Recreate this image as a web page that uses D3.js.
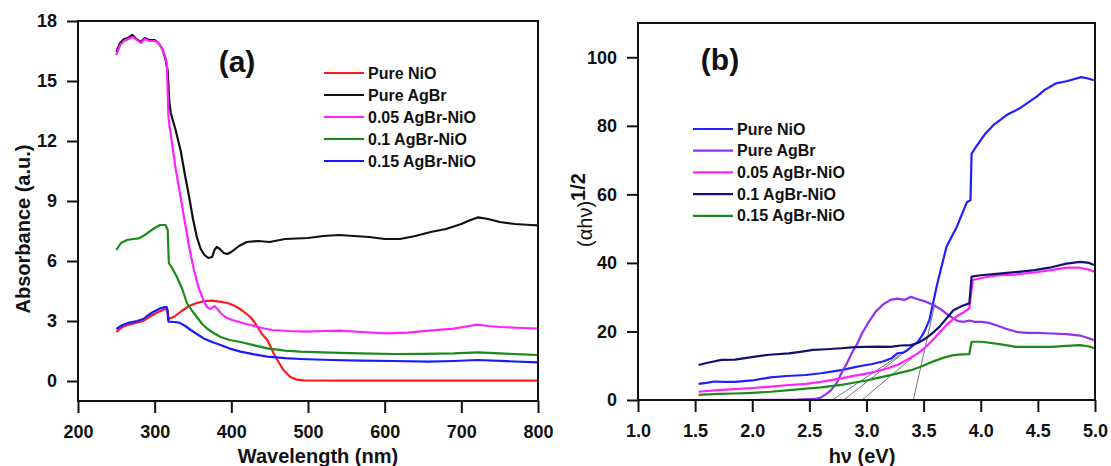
<!DOCTYPE html>
<html>
<head>
<meta charset="utf-8">
<script src="https://cdn.jsdelivr.net/npm/d3@7"></script>
<style>
  body { margin: 0; background: #fff; }
  svg text { font-family: "Liberation Sans", Arial, sans-serif; font-weight: bold; fill: #111; }
</style>
</head>
<body>
<svg id="chart" width="1111" height="466"></svg>
<script>
// ---- panel (a): absorbance vs wavelength ----
let pureNiOA = [[250,2.45],[258,2.7],[265,2.8],[275,2.9],[285,3.0],[295,3.25],[305,3.45],[313,3.6],[317,3.55],[318,3.1],[325,3.2],[335,3.5],[345,3.75],[355,3.9],[365,4.0],[375,4.02],[385,3.97],[395,3.9],[405,3.75],[415,3.5],[425,3.2],[430,2.95],[440,2.35],[447,2.05],[455,1.4],[460,1.05],[468,0.55],[477,0.2],[485,0.07],[495,0.03],[550,0.02],[650,0.02],[800,0.02]];
let pureAgBrA = [[250,16.45],[255,16.9],[260,17.1],[265,17.15],[271,17.3],[276,17.1],[282,16.95],[287,17.15],[293,17.05],[300,17.05],[305,16.9],[310,16.6],[314,16.1],[317,15.5],[319,14.0],[321,13.4],[327,12.6],[334,11.5],[340,10.2],[345,9.2],[350,8.1],[355,7.2],[360,6.6],[365,6.3],[370,6.15],[375,6.2],[378,6.55],[381,6.7],[385,6.6],[390,6.4],[395,6.35],[400,6.45],[410,6.75],[420,6.95],[435,7.0],[450,6.95],[470,7.1],[500,7.15],[520,7.25],[540,7.3],[560,7.25],[580,7.2],[600,7.1],[620,7.1],[640,7.25],[660,7.45],[680,7.6],[700,7.85],[712,8.05],[722,8.18],[735,8.1],[750,7.95],[770,7.85],[790,7.8],[800,7.78]];
let agbr005A = [[250,16.3],[255,16.8],[260,17.0],[266,17.1],[271,17.2],[277,17.05],[282,16.9],[287,17.1],[293,17.0],[300,17.0],[305,16.9],[310,16.6],[314,16.2],[316,15.8],[318,13.2],[320,12.6],[327,10.7],[336,8.7],[345,6.7],[351,5.6],[357,4.7],[363,4.1],[368,3.7],[373,3.6],[378,3.75],[382,3.6],[386,3.4],[392,3.2],[401,3.05],[415,2.9],[425,2.8],[440,2.65],[453,2.55],[475,2.5],[499,2.47],[520,2.5],[541,2.52],[570,2.45],[602,2.38],[630,2.42],[658,2.52],[690,2.62],[710,2.75],[721,2.82],[735,2.75],[751,2.7],[780,2.65],[800,2.62]];
let agbr01A = [[250,6.55],[256,6.9],[264,7.05],[272,7.1],[279,7.13],[285,7.25],[290,7.38],[298,7.6],[307,7.8],[314,7.8],[317,7.55],[318.5,5.9],[322,5.7],[329,5.2],[336,4.6],[342,3.9],[349,3.5],[355,3.2],[362,2.85],[369,2.6],[377,2.4],[386,2.2],[398,2.05],[412,1.95],[430,1.78],[447,1.63],[470,1.52],[490,1.47],[530,1.42],[568,1.38],[612,1.35],[650,1.36],[690,1.38],[721,1.43],[750,1.38],[780,1.33],[800,1.3]];
let agbr015A = [[250,2.6],[258,2.8],[267,2.92],[277,3.0],[285,3.1],[290,3.25],[298,3.45],[307,3.63],[313,3.7],[316,3.68],[318,2.97],[325,2.95],[332,2.92],[340,2.75],[347,2.55],[355,2.35],[364,2.13],[375,1.95],[386,1.8],[398,1.62],[412,1.47],[430,1.33],[447,1.22],[470,1.14],[490,1.1],[530,1.05],[568,1.02],[612,1.0],[656,0.97],[690,1.0],[721,1.05],[760,0.99],[800,0.93]];

// ---- panel (b): (alpha h nu)^1/2 vs photon energy ----
let pureNiOB = [[1.53,4.7],[1.6,5.0],[1.67,5.4],[1.75,5.3],[1.85,5.3],[2.0,5.7],[2.16,6.6],[2.3,7.0],[2.47,7.3],[2.6,7.8],[2.78,8.7],[2.9,9.6],[2.96,10.0],[3.05,10.5],[3.15,11.3],[3.22,12.2],[3.27,13.6],[3.32,13.8],[3.36,14.6],[3.45,17.0],[3.5,19.5],[3.55,23.3],[3.62,34],[3.70,44.7],[3.79,50.5],[3.88,57.8],[3.91,58.3],[3.92,71.9],[3.96,73.9],[4.04,77.7],[4.11,80.2],[4.23,83.2],[4.34,85.1],[4.49,88.5],[4.56,90.5],[4.66,92.4],[4.75,93.0],[4.88,94.2],[4.94,93.8],[4.99,93.3]];
let pureAgBrB = [[1.53,0],[2.0,0],[2.4,0.1],[2.55,0.3],[2.6,0.7],[2.65,1.8],[2.69,2.9],[2.74,5.0],[2.78,7.8],[2.83,10.8],[2.87,13.6],[2.92,16.5],[2.96,19.4],[3.02,22.8],[3.08,25.8],[3.15,28.0],[3.21,29.2],[3.27,29.6],[3.33,29.2],[3.39,30.1],[3.45,29.4],[3.52,28.7],[3.58,27.8],[3.64,26.7],[3.7,25.2],[3.76,23.8],[3.8,23.0],[3.85,22.8],[3.9,23.2],[3.95,22.8],[4.01,22.8],[4.07,22.5],[4.13,21.9],[4.22,20.8],[4.31,19.9],[4.4,19.6],[4.5,19.6],[4.62,19.4],[4.75,19.2],[4.87,18.8],[4.99,17.5]];
let agbr005B = [[1.53,2.4],[1.7,2.9],[1.85,3.2],[2.0,3.5],[2.16,3.9],[2.3,4.3],[2.47,4.7],[2.6,5.3],[2.78,6.3],[2.9,7.1],[3.0,7.7],[3.08,8.3],[3.18,9.2],[3.27,10.2],[3.36,11.8],[3.45,13.6],[3.52,15.5],[3.58,17.5],[3.64,19.7],[3.70,21.9],[3.78,24.2],[3.85,25.6],[3.90,26.7],[3.93,35.0],[4.05,35.9],[4.16,36.4],[4.3,36.6],[4.47,37.2],[4.6,37.8],[4.75,38.6],[4.87,38.6],[4.95,38.0],[4.99,37.4]];
let agbr01B = [[1.53,10.2],[1.6,10.8],[1.73,11.7],[1.85,11.8],[2.01,12.6],[2.15,13.2],[2.32,13.6],[2.45,14.2],[2.53,14.6],[2.65,14.8],[2.78,15.1],[2.9,15.4],[2.99,15.5],[3.1,15.6],[3.21,15.5],[3.3,15.9],[3.39,16.0],[3.46,16.8],[3.52,18.0],[3.58,19.6],[3.64,21.4],[3.7,23.8],[3.76,26.2],[3.84,27.5],[3.90,28.2],[3.92,36.0],[4.0,36.4],[4.16,36.9],[4.3,37.3],[4.47,37.9],[4.6,38.6],[4.75,39.8],[4.87,40.3],[4.95,40.0],[4.99,39.4]];
let agbr015B = [[1.53,1.5],[1.7,1.8],[1.85,1.9],[2.0,2.1],[2.16,2.4],[2.3,2.8],[2.47,3.3],[2.6,3.7],[2.78,4.4],[2.9,5.1],[3.0,5.7],[3.08,6.3],[3.2,7.2],[3.3,8.0],[3.39,8.7],[3.48,9.8],[3.58,11.2],[3.67,12.3],[3.76,13.1],[3.84,13.3],[3.90,13.4],[3.92,17.0],[4.01,17.0],[4.15,16.4],[4.31,15.5],[4.45,15.5],[4.62,15.5],[4.75,15.8],[4.87,16.0],[4.95,15.6],[4.99,15.1]];
// band-gap extrapolation lines
let tangentsB = [[[2.70,0],[3.29,13.1]],[[2.80,0],[3.34,14.1]],[[2.96,0],[3.50,15.1]],[[3.41,0],[3.60,28.2]]];

let namesA = ["Pure NiO","Pure AgBr","0.05 AgBr-NiO","0.1 AgBr-NiO","0.15 AgBr-NiO"];
let namesB = ["Pure NiO","Pure AgBr","0.05 AgBr-NiO","0.1 AgBr-NiO","0.15 AgBr-NiO"];
let xTicksA = [200,300,400,500,600,700,800];
let yTicksA = [0,3,6,9,12,15,18];
let xTicksB = [1.0,1.5,2.0,2.5,3.0,3.5,4.0,4.5,5.0];
let yTicksB = [0,20,40,60,80,100];

let seriesA = [pureNiOA, pureAgBrA, agbr005A, agbr01A, agbr015A];
let colorsA = ["#ff1a1a","#111111","#ff22ff","#1a8a1a","#1a1aff"];
let seriesB = [pureNiOB, pureAgBrB, agbr005B, agbr01B, agbr015B];
let colorsB = ["#1f1fff","#9030f0","#ff22ff","#12126e","#1a8a1a"];

let svg = d3.select("#chart");

function panel(opt) {
  let x = d3.scaleLinear().domain(opt.xDomain).range(opt.xRange);
  let y = d3.scaleLinear().domain(opt.yDomain).range(opt.yRange);
  let g = svg.append("g");

  let xAxis = g.append("g")
    .attr("transform", "translate(0," + opt.yRange[0] + ")")
    .call(d3.axisBottom(x).tickValues(opt.xTicks).tickSize(12).tickPadding(12).tickFormat(opt.xFormat));
  let yAxis = g.append("g")
    .attr("transform", "translate(" + opt.xRange[0] + ",0)")
    .call(d3.axisLeft(y).tickValues(opt.yTicks).tickSize(11).tickPadding(10));

  [xAxis, yAxis].forEach(a => {
    a.select(".domain").remove();
    a.selectAll(".tick line").attr("stroke", "#111").attr("stroke-width", 2);
    a.selectAll(".tick text").style("font-size", "18px").attr("fill", "#111");
  });

  let line = d3.line()
    .x(d => x(d[0]))
    .y(d => y(d[1]));

  if (opt.tangents) {
    g.selectAll(".tangent")
      .data(opt.tangents)
      .enter()
      .append("path")
      .attr("class", "tangent")
      .attr("d", line)
      .attr("fill", "none")
      .attr("stroke", "#777")
      .attr("stroke-width", 1);
  }

  g.selectAll(".series")
    .data(opt.series)
    .enter()
    .append("path")
    .attr("class", "series")
    .attr("d", line)
    .attr("fill", "none")
    .attr("stroke", (d, i) => opt.colors[i])
    .attr("stroke-width", 2.2)
    .attr("stroke-linejoin", "round");

  // frame
  g.append("rect")
    .attr("x", opt.xRange[0])
    .attr("y", opt.yRange[1])
    .attr("width", opt.xRange[1] - opt.xRange[0])
    .attr("height", opt.yRange[0] - opt.yRange[1])
    .attr("fill", "none")
    .attr("stroke", "#111")
    .attr("stroke-width", 2);

  // legend
  let leg = g.selectAll(".leg")
    .data(opt.names)
    .enter()
    .append("g")
    .attr("class", "leg")
    .attr("transform", (d, i) => "translate(" + opt.legX + "," + (opt.legY + i * opt.legStep) + ")");
  leg.append("line")
    .attr("x1", 0).attr("x2", 40)
    .attr("stroke", (d, i) => opt.colors[i])
    .attr("stroke-width", 2.2);
  leg.append("text")
    .attr("x", 44)
    .attr("dy", "0.35em")
    .style("font-size", "16px")
    .text(d => d);

  g.append("text")
    .attr("x", opt.tagX).attr("y", opt.tagY)
    .attr("text-anchor", "middle")
    .style("font-size", "30px")
    .text(opt.tag);

  return g;
}

let ga = panel({
  xDomain: [200, 800], xRange: [78, 538],
  yDomain: [-1, 18], yRange: [401, 21],
  xTicks: xTicksA, yTicks: yTicksA, xFormat: d3.format("d"),
  series: seriesA, colors: colorsA, names: namesA,
  legX: 324, legY: 73, legStep: 22, tag: "(a)", tagX: 237, tagY: 72
});

ga.append("text")
  .attr("x", 318).attr("y", 463)
  .attr("text-anchor", "middle")
  .style("font-size", "20px")
  .text("Wavelength (nm)");

ga.append("text")
  .attr("transform", "translate(30,229) rotate(-90)")
  .attr("text-anchor", "middle")
  .style("font-size", "20px")
  .text("Absorbance (a.u.)");

let gb = panel({
  xDomain: [1, 5], xRange: [638, 1095],
  yDomain: [0, 110], yRange: [400, 23],
  xTicks: xTicksB, yTicks: yTicksB, xFormat: d3.format(".1f"),
  series: seriesB, colors: colorsB, names: namesB, tangents: tangentsB,
  legX: 693, legY: 129, legStep: 21.7, tag: "(b)", tagX: 720, tagY: 70
});

gb.append("text")
  .attr("x", 862).attr("y", 463)
  .attr("text-anchor", "middle")
  .style("font-size", "20px")
  .text("h\u03bd (eV)");

let yLabB = gb.append("text")
  .attr("transform", "translate(592,210) rotate(-90)")
  .attr("text-anchor", "middle")
  .style("font-size", "20px");
yLabB.append("tspan").style("font-weight", "normal").text("(\u03b1h\u03bd)");
yLabB.append("tspan").attr("dy", -7).text("1/2");
</script>
</body>
</html>
